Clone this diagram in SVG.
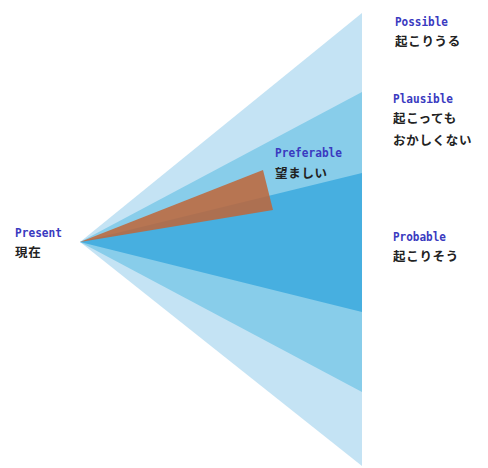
<svg xmlns="http://www.w3.org/2000/svg" width="488" height="468" viewBox="0 0 488 468">
<style>
.en{font-family:"DejaVu Sans Mono","Liberation Mono",monospace;font-size:13px;font-weight:bold;fill:#3a3ac0}
.ja{font-family:"Noto Sans CJK JP",sans-serif;font-size:12.5px;font-weight:bold;fill:#222;letter-spacing:0.7px}
</style>
<rect width="488" height="468" fill="#fff"/>
<g id="cones">
<polygon id="possible-cone" points="80,242 362,13 362,466" fill="#c4e3f4"/>
<polygon id="plausible-cone" points="80,242 362,92 362,392" fill="#88cdea"/>
<polygon id="probable-cone" points="80,242 362,173 362,312" fill="#47afe0"/>
<polygon id="preferable-cone" points="80,242 263,170 273,210" fill="#bf6537" fill-opacity="0.85"/>
</g>
<g id="present">
<text class="en" x="15" y="237" textLength="47" lengthAdjust="spacingAndGlyphs">Present</text>
<text class="ja" x="15" y="257">現在</text>
</g>
<g id="possible">
<text class="en" x="395" y="26" textLength="53" lengthAdjust="spacingAndGlyphs">Possible</text>
<text class="ja" x="395" y="46">起こりうる</text>
</g>
<g id="plausible">
<text class="en" x="393" y="103" textLength="60" lengthAdjust="spacingAndGlyphs">Plausible</text>
<text class="ja" x="393" y="123">起こっても</text>
<text class="ja" x="393" y="145">おかしくない</text>
</g>
<g id="preferable">
<text class="en" x="275" y="157" textLength="67" lengthAdjust="spacingAndGlyphs">Preferable</text>
<text class="ja" x="275" y="178">望ましい</text>
</g>
<g id="probable">
<text class="en" x="393" y="241" textLength="53" lengthAdjust="spacingAndGlyphs">Probable</text>
<text class="ja" x="393" y="261">起こりそう</text>
</g>
<g id="connectors"/>
</svg>
